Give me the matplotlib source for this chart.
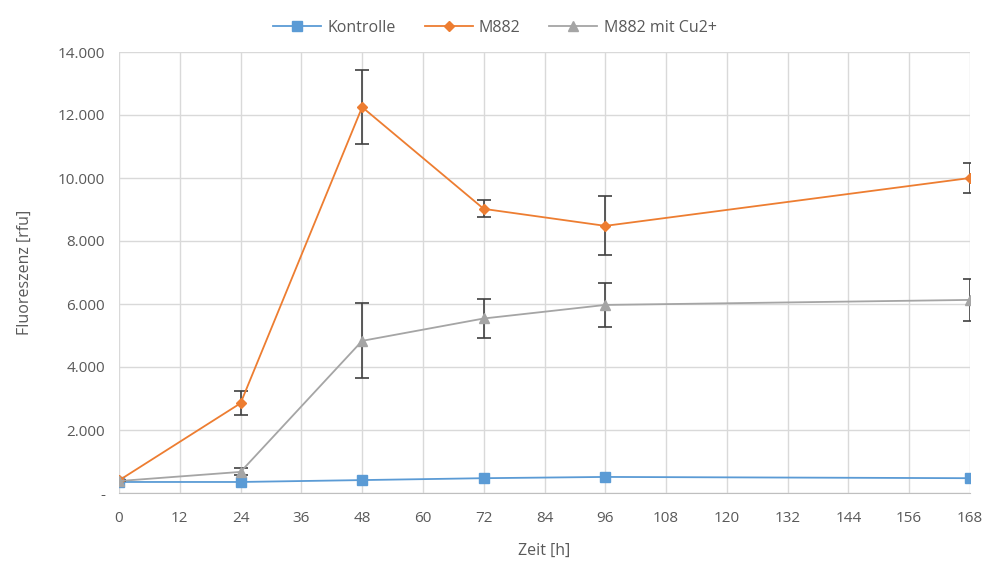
import numpy as np
import matplotlib
matplotlib.use('Agg')
import matplotlib.pyplot as plt
from matplotlib.lines import Line2D
from matplotlib.ticker import FuncFormatter

plt.rcParams['font.family'] = ['Open Sans', 'DejaVu Sans']

# Daten
zeit = [0, 24, 48, 72, 96, 168]
kontrolle = [350, 350, 410, 470, 510, 470]
m882 = [400, 2850, 12250, 9020, 8480, 10000]
m882_err = [0, 380, 1170, 270, 940, 480]
m882_cu = [380, 670, 4830, 5540, 5970, 6130]
m882_cu_err = [0, 110, 1190, 610, 690, 670]

txt = '#595959'
farben = ['#5b9bd5', '#ed7d31', '#a5a5a5']
marker = ['s', 'D', '^']
msize = [7, 5, 7]
namen = ['Kontrolle', 'M882', 'M882 mit Cu2+']

fig = plt.figure(figsize=(9.9, 5.61), dpi=100)
ax = fig.add_axes([119 / 990, 1 - 493 / 561, (970 - 119) / 990, (493 - 52) / 561])

ax.plot(zeit, kontrolle, color=farben[0], marker=marker[0], markersize=msize[0], lw=1.3, zorder=3)
ax.errorbar(zeit, m882, yerr=m882_err, color=farben[1], marker=marker[1], markersize=msize[1], lw=1.3,
            ecolor='#404040', elinewidth=1.2, capsize=5, capthick=1.2, zorder=4)
ax.errorbar(zeit, m882_cu, yerr=m882_cu_err, color=farben[2], marker=marker[2], markersize=msize[2], lw=1.3,
            ecolor='#404040', elinewidth=1.2, capsize=5, capthick=1.2, zorder=4)

ax.set_xlim(0, 168)
ax.set_ylim(0, 14000)
ax.set_xticks(np.arange(0, 169, 12))
ax.set_yticks(np.arange(0, 14001, 2000))
ax.yaxis.set_major_formatter(FuncFormatter(lambda v, p: '-' if v == 0 else f'{int(v):,}'.replace(',', '.')))

ax.grid(True, color='#d9d9d9', lw=1)
ax.set_axisbelow(True)
for s in ['top', 'right', 'left']:
    ax.spines[s].set_visible(False)
ax.spines['bottom'].set_color('#bfbfbf')
ax.tick_params(axis='both', length=0, colors=txt, labelsize=11, pad=10)
ax.tick_params(axis='x', pad=13)

ax.set_xlabel('Zeit [h]', color=txt, fontsize=11.5, labelpad=12)
ax.set_ylabel('Fluoreszenz [rfu]', color=txt, fontsize=11.5, labelpad=18)

handles = [Line2D([], [], color=c, marker=m, markersize=s, lw=1.3) for c, m, s in zip(farben, marker, msize)]
leg = fig.legend(handles, namen, loc='upper center', bbox_to_anchor=(0.5, 0.99), ncol=3,
                 frameon=False, fontsize=11.5, handlelength=3, handletextpad=0.4, columnspacing=1.8)
for t in leg.get_texts():
    t.set_color(txt)

fig.savefig('out.png', dpi=100)
